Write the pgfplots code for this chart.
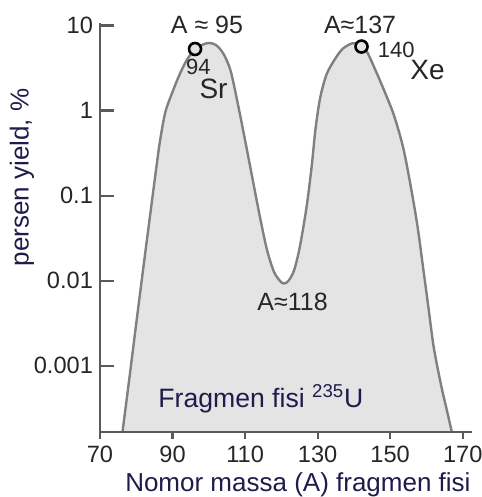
\documentclass[border=0pt]{standalone}
\usepackage{fontspec}
\setmainfont{Liberation Sans}
\usepackage{pgfplots}
\pgfplotsset{compat=1.18}
\definecolor{fillgray}{RGB}{228,228,228}
\definecolor{curvegray}{RGB}{128,128,128}
\definecolor{axisgray}{RGB}{90,90,90}
\definecolor{labelnavy}{RGB}{30,28,75}
\begin{document}
\begin{tikzpicture}
\useasboundingbox (-50pt,-32.5pt) rectangle (190.5pt,216pt);
\begin{axis}[
  at={(0,0)}, anchor=south west,
  scale only axis, width=186pt, height=204.3pt,
  ymode=log, xmin=70, xmax=172.56, ymin=1.66e-4, ymax=10.6,
  axis lines=left, axis line style={-, axisgray, line width=1.2pt},
  axis on top, clip=false,
  xtick={70,90,110,130,150,170}, xticklabels={70,90,110,130,150,170},
  tick align=outside, major tick length=3.5pt,
  tick style={axisgray, line width=1.1pt},
  ytick=\empty, yminorticks=false,
  extra y ticks={0.001,0.01,0.1,1,10},
  extra y tick labels={0.001,0.01,0.1,1,10},
  extra y tick style={tick align=inside, major tick length=7pt},
  tick label style={font=\fontsize{11.8}{14}\selectfont, text=black!85},
  label style={font=\fontsize{13}{15}\selectfont, text=labelnavy},
  xlabel={Nomor massa (A) fragmen fisi},
  ylabel={persen yield, \%},
  xlabel style={at={(axis description cs:0.532,-0.13)}, anchor=center},
  ylabel style={at={(axis description cs:-0.21,0.623)}, anchor=center},
]
% values: mass number A, yield in percent
\addplot[draw=curvegray, line width=1.2pt, fill=fillgray, smooth] coordinates {
(76.2,1.66e-4) (78.0,6.6e-4) (80.0,3.16e-3) (82.0,0.0148) (84.0,0.0676)
(85.5,0.209) (86.5,0.427) (88.0,0.955) (90.0,1.66) (92.0,2.69) (94.0,3.98)
(96.0,5.13) (98.0,5.89) (100.0,6.24) (102.0,5.89) (104.0,4.68) (106.0,2.95)
(108.0,1.20) (110.0,0.447) (112.0,0.162) (114.0,0.0589) (116.0,0.0234)
(118.0,0.0126) (120.0,0.00955) (121.0,0.00933) (122.0,0.0100) (123.5,0.0132)
(125.1,0.0251) (127.0,0.0759) (128.4,0.229) (129.4,0.603) (130.7,1.41)
(132.5,2.69) (135.0,4.17) (137.0,5.37) (139.5,6.17) (141.5,6.03) (143.5,5.01)
(146.0,2.95) (148.5,1.66) (151.0,0.891) (153.5,0.380) (155.5,0.141)
(157.5,0.0447) (159.0,0.0151) (160.5,0.00501) (162.0,0.00166) (164.0,6.0e-4)
(165.5,3.16e-4) (167.0,1.66e-4)
};
\addplot[only marks, mark=*, mark size=3pt, mark options={draw=black, line width=1.3pt, fill=fillgray}] coordinates {(96.2,5.3) (142.1,5.66)};
\node[font=\fontsize{12.5}{15}\selectfont, text=black!85, anchor=center] at (axis cs:99.5,10.2) {A ≈ 95};
\node[font=\fontsize{12.5}{15}\selectfont, text=black!85, anchor=center] at (axis cs:141.7,10.2) {A≈137};
\node[font=\fontsize{12.5}{15}\selectfont, text=black!85, anchor=center] at (axis cs:123.1,0.00569) {A≈118};
\node[font=\fontsize{11}{13}\selectfont, text=black!85, anchor=center, inner sep=1pt] at (axis cs:97.1,3.3) {94};
\node[font=\fontsize{14}{16}\selectfont, text=black!85, anchor=center, inner sep=1pt] at (axis cs:101.3,1.8) {Sr};
\node[font=\fontsize{11}{13}\selectfont, text=black!85, anchor=center] at (axis cs:151.7,5.18) {140};
\node[font=\fontsize{14}{16}\selectfont, text=black!85, anchor=center] at (axis cs:160.3,3.01) {Xe};
\node[font=\fontsize{13.3}{16}\selectfont, text=labelnavy, anchor=base west, inner sep=0pt] at (axis cs:86.0,3.18e-4) {Fragmen fisi\ \textsuperscript{235}U};
\end{axis}
\end{tikzpicture}
\end{document}
